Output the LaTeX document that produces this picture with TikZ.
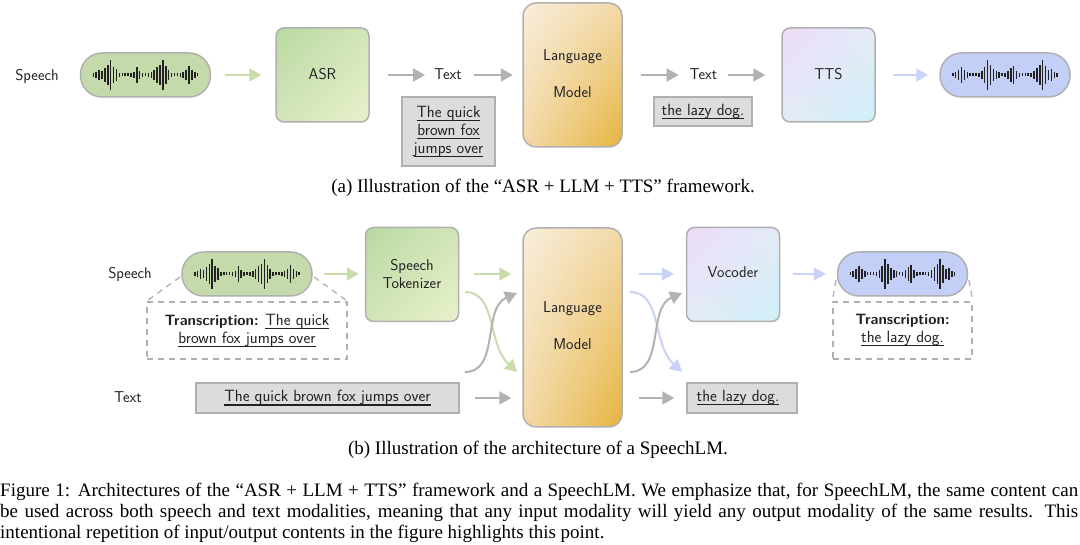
\documentclass[tikz,border=0pt]{standalone}
\usepackage{fontspec}
\setmainfont{Liberation Serif}
\usetikzlibrary{arrows.meta,shadings}
\newcommand{\ulbar}[1]{\leavevmode\setbox0\hbox{#1}\rlap{\rule[-3.6pt]{\wd0}{1.1pt}}\box0\relax}
\definecolor{edgegray}{HTML}{B0B0B0}
\definecolor{arrgray}{HTML}{B2B2B2}
\definecolor{arrgreen}{HTML}{C8DCAC}
\definecolor{arrblue}{HTML}{C9D3F8}
\definecolor{boxgray}{HTML}{DCDCDC}
\definecolor{inkdark}{HTML}{222222}
\newcommand{\wavegreen}{2,3,5,4,7,10,15,8,6,2,1.5,1.5,1.5,2,3,8,4,2,1.5,2,3,5,8,10,15,9,5,2,1.5,1.5,2,3,5,9,5,3,1.5}
\newcommand{\waveblue}{1.5,3,5,8,5,3,1.5,1.5,1.5,2,4,8,15,10,6,4,3,1.5,2,4,7,9,4,2,1.5,1.5,1.5,2,4,7,10,15,9,5,6,3,2}
\definecolor{HGa}{HTML}{B9D8A2}
\definecolor{HGb}{HTML}{D2E5B8}
\definecolor{HGc}{HTML}{E8F1CC}
\definecolor{HGp}{HTML}{C5DAAA}
\definecolor{HBa}{HTML}{EDDCF6}
\definecolor{HBb}{HTML}{E3EBF7}
\definecolor{HBc}{HTML}{CFF0F8}
\definecolor{HBp}{HTML}{C3CFF6}
\definecolor{HLa}{HTML}{F8EEDC}
\definecolor{HLb}{HTML}{F2D9A8}
\definecolor{HLc}{HTML}{E6B440}
\tikzset{
  lbl/.style={font=\sffamily\fontsize{15.7}{18}\selectfont,text=inkdark,inner sep=0pt,align=center},
  ullbl/.style={font=\sffamily\fontsize{16.3}{18}\selectfont},
  captext/.style={font=\rmfamily\fontsize{19}{21}\selectfont,text=black,inner sep=0pt,anchor=base},
  caplines/.style={font=\rmfamily\fontsize{19}{21}\selectfont,text=black,inner sep=0pt,anchor=base west},
  block/.style={draw=edgegray,line width=1.5pt,rounded corners=8pt,minimum width=93pt,minimum height=94pt,inner sep=0pt,font=\sffamily\fontsize{15.7}{18}\selectfont,text=inkdark,align=center},
  greenblock/.style={block,upper left=HGa,upper right=HGb,lower left=HGb,lower right=HGc},
  blueblock/.style={block,upper left=HBa,upper right=HBb,lower left=HBb,lower right=HBc},
  lmblock/.style={block,rounded corners=13pt,minimum width=99pt,upper left=HLa,upper right=HLb,lower left=HLb,lower right=HLc,font=\sffamily\fontsize{15.7}{37}\selectfont},
  pill/.style={draw=edgegray,line width=1.5pt,rounded corners=21.5pt,minimum width=130pt,minimum height=44pt,inner sep=0pt},
  greenpill/.style={pill,fill=HGp},
  bluepill/.style={pill,fill=HBp},
  textbox/.style={lbl,ullbl,draw=edgegray,line width=1.5pt,fill=boxgray,inner sep=0pt},
  dashbox/.style={lbl,ullbl,draw=edgegray,line width=1.3pt,dash pattern=on 6pt off 5pt,inner sep=0pt},
  dashlink/.style={draw=edgegray,line width=1.3pt,dash pattern=on 6pt off 5pt},
  arr/.style={line width=2pt,-{Triangle[length=12pt,width=13pt]}},
  grayarr/.style={arr,color=arrgray},
  greenarr/.style={arr,color=arrgreen},
  bluearr/.style={arr,color=arrblue},
  pics/wavepic/.style={code={
    \foreach \h [count=\i] in #1 {
      \draw[line width=1.5pt,draw=inkdark] ({(\i-19)*2.9},{-\h}) -- ({(\i-19)*2.9},{\h});
    }
  }}
}
\begin{document}
\begin{tikzpicture}[x=1pt,y=-1pt]
\useasboundingbox (0,0) rectangle (1080,545);
\fill[white] (0,0) rectangle (1080,545);
% ---- row (a)
\node[lbl] (s1) at (37,76) {Speech};
\node[greenpill] (p1) at (145.5,75) {};
\pic at (p1.center) {wavepic=\wavegreen};
\node[greenblock,text depth=2pt] (asr) at (322.5,75) {ASR};
\node[lbl] (t1) at (448,74) {Text};
\node[textbox,minimum width=93pt,minimum height=69pt] (q1) at (448.5,131.5) {%
  \fontsize{16.3}{18.5}\selectfont\ulbar{The quick}\\\ulbar{brown fox}\\\ulbar{jumps over}};
\node[lmblock,minimum height=144pt,text depth=2pt] (lm1) at (572.5,75) {Language\\Model};
\node[lbl] (t2) at (703.5,74) {Text};
\node[textbox,minimum width=98pt,minimum height=29pt] (q2) at (703,111.5) {\ulbar{the lazy dog.}};
\node[blueblock,text depth=2pt] (tts) at (828.5,75) {TTS};
\node[bluepill] (p2) at (1005,75) {};
\pic at (p2.center) {wavepic=\waveblue};
\draw[greenarr,shorten <=13.5pt,shorten >=14pt] (p1.east) -- (asr.west);
\draw[grayarr,shorten <=18pt,shorten >=9pt] (asr.east) -- (asr.east -| t1.west);
\draw[grayarr,shorten <=12pt,shorten >=9.5pt] (asr.east -| t1.east) -- (asr.east -| lm1.west);
\draw[grayarr,shorten <=18pt,shorten >=11pt] (lm1.east) -- (lm1.east -| t2.west);
\draw[grayarr,shorten <=11pt,shorten >=16pt] (lm1.east -| t2.east) -- (lm1.east -| tts.west);
\draw[bluearr,shorten <=17pt,shorten >=11pt] (tts.east) -- (p2.west);
\node[captext] (capa) at (543,193) {(a) Illustration of the “ASR + LLM + TTS” framework.};
% ---- row (b)
\node[lbl] (s2) at (130,274) {Speech};
\node[lbl] (t3) at (128,397) {Text};
\node[dashbox,minimum width=200pt,minimum height=57pt] (d1) at (247,330.5) {%
  \fontsize{16.3}{20}\selectfont{\fontsize{15}{20}\selectfont\textbf{Transcription:}} \ulbar{The quick}\\\ulbar{brown fox jumps over}};
\node[dashbox,minimum width=139pt,minimum height=57pt] (d2) at (902.5,330.5) {%
  \fontsize{16.3}{20}\selectfont{\fontsize{15}{20}\selectfont\textbf{Transcription:}}\\\ulbar{the lazy dog.}};
\coordinate (l1) at (180,277);
\coordinate (l2) at (314,277);
\coordinate (l3) at (836,280);
\coordinate (l4) at (969,280);
\draw[dashlink] (l1) -- (d1.north west);
\draw[dashlink] (l2) -- (d1.north east);
\draw[dashlink] (l3) -- (d2.north west);
\draw[dashlink] (l4) -- (d2.north east);
\node[greenpill] (p3) at (247,274) {};
\pic at (p3.center) {wavepic=\wavegreen};
\node[greenblock,text depth=2pt] (tok) at (412,274.5) {Speech\\Tokenizer};
\node[textbox,minimum width=263pt,minimum height=30pt] (q3) at (327.5,398) {\ulbar{The quick brown fox jumps over}};
\node[lmblock,minimum height=199pt,text depth=4pt] (lm2) at (572.5,327.5) {Language\\Model};
\node[blueblock,text depth=4pt] (voc) at (733,274.5) {Vocoder};
\node[bluepill] (p4) at (902.5,274) {};
\pic at (p4.center) {wavepic=\waveblue};
\node[textbox,minimum width=110pt,minimum height=30pt] (q4) at (742,398) {\ulbar{the lazy dog.}\hspace*{8pt}};
\draw[greenarr,shorten <=11pt,shorten >=6pt] (p3.east) -- (p3.east -| tok.west);
\draw[greenarr,shorten <=15pt,shorten >=11pt] (p3.east -| tok.east) -- (p3.east -| lm2.west);
\draw[grayarr,shorten <=15pt,shorten >=11pt] (q3.east) -- (q3.east -| lm2.west);
\draw[bluearr,shorten <=16pt,shorten >=12pt] (p3.east -| lm2.east) -- (p3.east -| voc.west);
\draw[bluearr,shorten <=13pt,shorten >=11pt] (p4.west -| voc.east) -- (p4.west);
\draw[grayarr,shorten <=16pt,shorten >=12pt] (q4.west -| lm2.east) -- (q4.west);
\coordinate (ga) at (465,292);
\coordinate (gb) at (517,372);
\coordinate (gc) at (465,372);
\coordinate (gd) at (517,293);
\draw[greenarr] (ga) .. controls (497,292) and (487,344) .. (gb);
\draw[grayarr] (gc) .. controls (500,372) and (482,308) .. (gd);
\coordinate (ba) at (630,292);
\coordinate (bb) at (682,372);
\coordinate (bc) at (630,372);
\coordinate (bd) at (682,293);
\draw[bluearr] (ba) .. controls (662,292) and (652,344) .. (bb);
\draw[grayarr] (bc) .. controls (665,372) and (647,308) .. (bd);
\node[captext] (capb) at (538,455) {(b) Illustration of the architecture of a SpeechLM.};
% ---- figure caption
\node[caplines] (f1) at (0,496.5) {\makebox[1078pt][s]{Figure 1: Architectures of the “ASR + LLM + TTS” framework and a SpeechLM. We emphasize that, for SpeechLM, the same content can}};
\node[caplines] (f2) at (0,517.5) {\makebox[1078pt][s]{be used across both speech and text modalities, meaning that any input modality will yield any output modality of the same results. This}};
\node[caplines] (f3) at (0,538.5) {intentional repetition of input/output contents in the figure highlights this point.};
\end{tikzpicture}
\end{document}
